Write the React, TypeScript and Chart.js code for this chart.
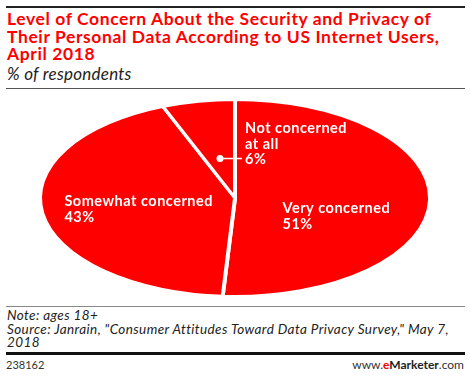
import React, { useEffect, useRef } from "react";
import { Chart, registerables } from "chart.js";

Chart.register(...registerables);

const categories = ["Very concerned", "Somewhat concerned", "Not concerned at all"];
const values = [51, 43, 6];
const labelLines = [["Very concerned"], ["Somewhat concerned"], ["Not concerned", "at all"]];

const RED = "#ff0000";
const ELLIPSE_RX = 195;
const LABEL_FONT = "bold 14.5px Lato";
const LINE_H = 15.5;

// label placement relative to each slice's mid-angle (fraction of radius)
const labelPlacement = [
  { f: 0.52, dy: 13.5, callout: false },
  { f: 0.5, dy: 0.5, callout: false },
  { f: 0.41, dy: 0, callout: true },
];

const ellipsePlugin = {
  id: "ellipsePie",
  beforeDatasetsDraw(chart: any) {
    const arc = chart.getDatasetMeta(0).data[0];
    if (!arc) return;
    const { x, y, outerRadius } = arc.getProps(["x", "y", "outerRadius"], true);
    const sx = ELLIPSE_RX / outerRadius;
    const ctx = chart.ctx;
    ctx.save();
    ctx.translate(x, y);
    ctx.scale(sx, 1);
    ctx.translate(-x, -y);
  },
  afterDatasetsDraw(chart: any) {
    const ctx = chart.ctx;
    ctx.restore();
    const meta = chart.getDatasetMeta(0);
    ctx.save();
    ctx.font = LABEL_FONT;
    (ctx as any).letterSpacing = "0.5px";
    ctx.fillStyle = "#ffffff";
    ctx.strokeStyle = "#ffffff";
    ctx.textBaseline = "alphabetic";
    ctx.textAlign = "left";
    meta.data.forEach((arc: any, i: number) => {
      const { x, y, startAngle, endAngle, outerRadius } = arc.getProps(
        ["x", "y", "startAngle", "endAngle", "outerRadius"],
        true
      );
      const rx = ELLIPSE_RX;
      const ry = outerRadius;
      const mid = (startAngle + endAngle) / 2;
      const p = labelPlacement[i];
      const ax = x + p.f * rx * Math.cos(mid);
      const ay = y + p.f * ry * Math.sin(mid);
      const lines = [...labelLines[i], values[i] + "%"];
      if (p.callout) {
        ctx.beginPath();
        ctx.arc(ax, ay, 3.5, 0, Math.PI * 2);
        ctx.fill();
        ctx.lineWidth = 1.5;
        ctx.beginPath();
        ctx.moveTo(ax, ay);
        ctx.lineTo(ax + 22, ay);
        ctx.stroke();
        const left = ax + 25;
        const lastBase = ay + 5.5;
        lines.forEach((t, k) => {
          ctx.fillText(t, left, lastBase - (lines.length - 1 - k) * LINE_H);
        });
      } else {
        const w = Math.max(...lines.map((t) => ctx.measureText(t).width));
        const left = ax - w / 2;
        lines.forEach((t, k) => {
          ctx.fillText(t, left, ay + p.dy + k * LINE_H);
        });
      }
    });
    ctx.restore();
  },
};

export default function App() {
  const ref = useRef<HTMLCanvasElement | null>(null);
  useEffect(() => {
    document.body.style.margin = "0";
    if (!ref.current) return;
    const chart = new Chart(ref.current, {
      type: "pie",
      data: {
        labels: categories,
        datasets: [
          {
            data: values,
            backgroundColor: RED,
            borderColor: "#ffffff",
            borderWidth: 2,
          },
        ],
      },
      options: {
        animation: false,
        responsive: false,
        maintainAspectRatio: false,
        layout: { padding: 0 },
        plugins: { legend: { display: false }, tooltip: { enabled: false } },
      },
      plugins: [ellipsePlugin],
    });
    return () => chart.destroy();
  }, []);

  const abs = (s: React.CSSProperties): React.CSSProperties => ({ position: "absolute", ...s });

  return (
    <div style={{ position: "relative", width: 470, height: 376, background: "#fff", overflow: "hidden", fontFamily: "Lato" }}>
      <div style={abs({ left: 6, top: 6, width: 459, height: 2, background: "#222" })} />
      <div
        style={abs({
          left: 7,
          top: 10,
          color: RED,
          fontWeight: "bold",
          fontSize: 17.5,
          letterSpacing: "0.6px",
          lineHeight: "17.5px",
          whiteSpace: "nowrap",
        })}
      >
        Level of Concern About the Security and Privacy of
        <br />
        Their Personal Data According to US Internet Users,
        <br />
        April 2018
      </div>
      <div
        style={abs({
          left: 7,
          top: 63,
          fontStyle: "italic",
          fontSize: 17,
          letterSpacing: "0.25px",
          color: "#222",
          whiteSpace: "nowrap",
        })}
      >
        % of respondents
      </div>
      <div style={abs({ left: 6, top: 88, width: 459, height: 1, background: "#555" })} />
      <canvas ref={ref} width={470} height={198} style={abs({ left: 0, top: 99, width: 470, height: 198 })} />
      <div style={abs({ left: 6, top: 306, width: 459, height: 1, background: "#888" })} />
      <div
        style={abs({
          left: 7,
          top: 309,
          fontStyle: "italic",
          fontSize: 13.5,
          letterSpacing: "0.4px",
          lineHeight: "13.5px",
          color: "#222",
          whiteSpace: "nowrap",
        })}
      >
        Note: ages 18+
        <br />
        Source: Janrain, "Consumer Attitudes Toward Data Privacy Survey," May 7,
        <br />
        2018
      </div>
      <div style={abs({ left: 6, top: 352, width: 459, height: 3, background: "#111" })} />
      <div style={abs({ left: 6, top: 358, fontSize: 11, color: "#333", whiteSpace: "nowrap" })}>238162</div>
      <div style={abs({ right: 6, top: 357, fontSize: 12, color: "#333", whiteSpace: "nowrap" })}>
        www.<span style={{ color: RED, fontWeight: "bold" }}>e</span>
        <span style={{ fontWeight: "bold", color: "#222" }}>Marketer</span>.com
      </div>
    </div>
  );
}
